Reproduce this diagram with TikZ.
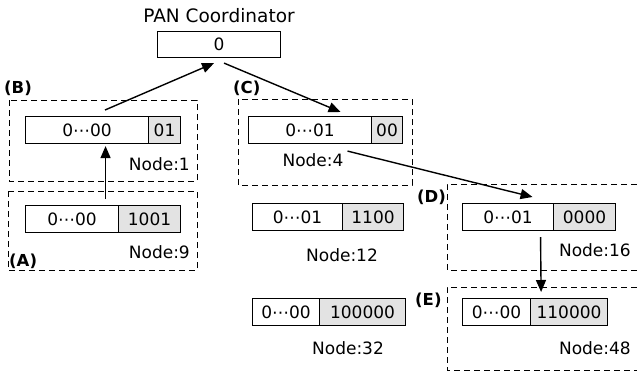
\documentclass[tikz,border=0pt]{standalone}
\usepackage{fontspec}
\setmainfont{DejaVu Sans}
\usetikzlibrary{arrows.meta,calc}
\tikzset{
 idl/.style={draw, line width=1.1pt, inner sep=0pt, minimum height=27pt, anchor=north west, font=\fontsize{17}{20}\selectfont},
 idr/.style={idl, fill=black!11},
 grp/.style={draw, line width=1pt, dash pattern=on 6pt off 4pt},
 lbl/.style={font=\fontsize{17}{20}\selectfont, inner sep=0pt},
 tag/.style={font=\bfseries\fontsize{16.5}{18}\selectfont, inner sep=0pt},
 arr/.style={line width=1.4pt, -{Triangle[length=12pt,width=10pt]}},
}
\newcommand\idbox[7]{%
 \node[idl, minimum width=#3pt-#2pt] (#1l) at (#2,#5) {#6};
 \node[idr, minimum width=#4pt-#3pt] (#1r) at (#3,#5) {#7};
}
\begin{document}
\begin{tikzpicture}[x=1pt,y=-1pt]
\useasboundingbox (0,0) rectangle (637,372);
% PAN coordinator
\node[lbl, font=\fontsize{18.5}{21}\selectfont] (pantitle) at (219,16) {PAN Coordinator};
\node[idl, minimum width=123pt, minimum height=26pt] (pan) at (157,31) {0};
% group frames
\draw[grp] (9,100) rectangle (197,181);
\draw[grp] (8,191) rectangle (197,270);
\draw[grp] (238,99) rectangle (412,185);
\draw[grp] (637,184) -| (447,270) -- (637,270);
\draw[grp] (637,287) -| (447,370) -- (637,370);
% tags
\node[tag, anchor=west] (tB) at (4,88) {(B)};
\node[tag, anchor=west] (tA) at (9,261) {(A)};
\node[tag, anchor=west] (tC) at (233,88) {(C)};
\node[tag, anchor=west] (tD) at (417,197) {(D)};
\node[tag, anchor=west] (tE) at (415,300) {(E)};
% id boxes
\idbox{n1}{25}{148}{180}{116}{0⋯00}{01}
\idbox{n9}{25}{118}{180}{205}{0⋯00}{1001}
\idbox{n4}{248}{371}{402}{116}{0⋯01}{00}
\idbox{n12}{252}{342}{403}{203}{0⋯01}{1100}
\idbox{n16}{462}{553}{615}{203}{0⋯01}{0000}
\idbox{n32}{252}{319}{405}{298}{0⋯00}{100000}
\idbox{n48}{462}{530}{607}{298}{0⋯00}{110000}
% node labels
\node[lbl, anchor=east] (l1) at (190,164) {Node:1};
\node[lbl, anchor=east] (l9) at (190,252) {Node:9};
\node[lbl] (l4) at (313,160) {Node:4};
\node[lbl] (l12) at (342,255) {Node:12};
\node[lbl, anchor=east] (l16) at (631,250) {Node:16};
\node[lbl] (l32) at (348,348) {Node:32};
\node[lbl, anchor=east] (l48) at (631,348) {Node:48};
% arrows
\coordinate (bout) at (105,110);
\draw[arr] (bout) -- ($(pan.south)+(-5,5)$);
\draw[arr] ($(pan.south)+(5,5)$) -- ($(n4l.north)+(30.5,-4)$);
\draw[arr] ($(n9l.north)+(33.5,-6)$) -- ($(n1l.south)+(18.5,2)$);
\draw[arr] ($(n4l.south)+(37.5,7)$) -- ($(n16l.north)+(24.5,-6)$);
\draw[arr] ($(n16l.south)+(32.5,6)$) -- ($(n48l.north east)+(10,-6)$);
\end{tikzpicture}
\end{document}
